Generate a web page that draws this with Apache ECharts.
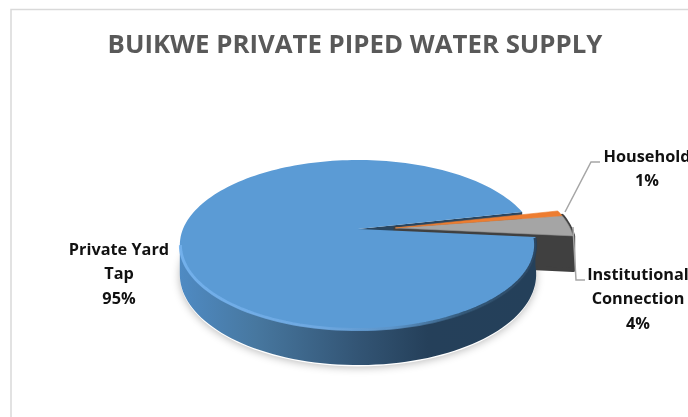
<!DOCTYPE html>
<html><head><meta charset="utf-8">
<style>html,body{margin:0;padding:0;background:#fff;overflow:hidden}#c{width:688px;height:417px}</style>
<script src="https://cdn.jsdelivr.net/npm/echarts@6/dist/echarts.min.js"></script>
</head><body><div id="c"></div>
<script>
const titleText = 'BUIKWE PRIVATE PIPED WATER SUPPLY';
const categories = ['Private Yard\nTap', 'Household', 'Institutional\nConnection'];
const values = [95, 1, 4];
const topColors = ['#5b9bd5', '#ed7d31', '#a5a5a5'];
const explode = [0, 0.215, 0.215];

const FONT = '"Open Sans", sans-serif';
const view = {cx: 358, cy: 229, A: 175, a: 82, p: 0.188, H: 28.5, start: 5.5, explodeAngle: -3.5};
const labelPos = [[119, 238], [647, 145], [638, 263]];
const leaders = [null, [[565, 212], [591, 162], [600, 162]], [[573, 227], [576, 280], [585, 280]]];

const total = values.reduce((s, v) => s + v, 0);
function proj(u, v, h) {
  const w = 1 - view.p * v;
  return [view.cx + view.A * u / w, view.cy + view.a * v / w + (h || 0) * view.H / w];
}
function slice(i) {
  let acc = 0;
  for (let k = 0; k < i; k++) acc += values[k];
  const a0 = view.start + acc / total * 360, a1 = a0 + values[i] / total * 360;
  const dir = view.explodeAngle * Math.PI / 180;
  const ex = explode[i];
  return {a0, a1, ox: ex * Math.cos(dir), oy: ex * Math.sin(dir)};
}
function arc(s, from, to, h, n, r) {
  const pts = [], R = r || 1;
  for (let k = 0; k <= n; k++) {
    const t = (from + (to - from) * k / n) * Math.PI / 180;
    pts.push(proj(s.ox + R * Math.cos(t), s.oy + R * Math.sin(t), h));
  }
  return pts;
}
const LG = (a, b, c, d, st) => new echarts.graphic.LinearGradient(a, b, c, d, st, true);

function renderItem(params) {
  const i = params.dataIndex;
  const s = slice(i);
  const apex = h => proj(s.ox, s.oy, h);
  const kids = [];
  const poly = (points, style, z2) => ({type: 'polygon', shape: {points}, style, z2, silent: true});
  const line = (points, style, z2) => ({type: 'polyline', shape: {points}, style: Object.assign({fill: null}, style), z2, silent: true});
  if (i === 0) {
    const sideGrad = LG(178, 0, 535, 0, [
      {offset: 0, color: '#4f8bc4'}, {offset: 0.22, color: '#47779f'},
      {offset: 0.5, color: '#335575'}, {offset: 0.7, color: '#25405a'}, {offset: 1, color: '#24405a'}]);
    // ground shadow
    kids.push(poly(arc(s, 0, 360, 1.04, 120), {fill: '#fff', shadowBlur: 9, shadowColor: 'rgba(0,0,0,0.28)', shadowOffsetY: 1}, 1));
    // far cut wall seen through the wedge
    const farEnd = arc(s, s.a1, s.a1, 0, 1)[0], farEndH = arc(s, s.a1, s.a1, 1, 1)[0];
    kids.push(poly([apex(0), farEnd, farEndH, apex(1)], {fill: '#2a4660'}, 2));
    // side wall
    const r0 = arc(s, s.a0, 169, 0, 80), r1 = arc(s, s.a0, 169, 1, 80);
    kids.push(poly(r0.concat(r1.reverse()), {fill: sideGrad}, 20));
    // top face
    const rim = arc(s, s.a0, s.a1, 0, 180);
    kids.push(poly([apex(0)].concat(rim), {fill: topColors[0]}, 21));
    // bevel along the near rim
    const bevel = arc(s, s.a0 + 0.6, 169, 0, 80, 0.997);
    kids.push(line(bevel, {lineWidth: 3, stroke: LG(178, 0, 535, 0, [
      {offset: 0, color: '#74b2ee'}, {offset: 0.4, color: '#6fa9e2'}, {offset: 0.6, color: '#5b93c8'},
      {offset: 0.8, color: '#2f5270'}, {offset: 1, color: '#263f58'}]), opacity: 0.9}, 22));
  } else {
    const sideColor = '#404040';
    if (i === 2) {
      const r0 = arc(s, s.a0, s.a1, 0, 20), r1 = arc(s, s.a0, s.a1, 1.18, 20);
      const near1 = arc(s, s.a1, s.a1, 1.18, 1)[0];
      const wallStyle = {fill: sideColor, stroke: sideColor, lineWidth: 4, lineJoin: 'round'};
      kids.push(poly(r0.concat(r1.reverse()), wallStyle, 5));
      kids.push(poly([apex(0), r0[r0.length - 1], near1, apex(1.18)], wallStyle, 5));
    }
    const rim = arc(s, s.a0, s.a1, 0, 10);
    kids.push(poly([apex(0)].concat(rim), {fill: topColors[i], stroke: i === 2 ? '#8f8f8f' : topColors[i], lineWidth: 0.6, lineJoin: 'round'}, i === 2 ? 8 : 9));
  }
  // leader line
  if (leaders[i]) kids.push(line(leaders[i], {stroke: '#a6a6a6', lineWidth: 1.5}, 30));
  // label
  kids.push({type: 'text', z2: 40, silent: true, style: {
    x: labelPos[i][0], y: labelPos[i][1], text: categories[i] + '\n' + values[i] + '%',
    align: 'center', verticalAlign: 'top', font: 'bold 16.3px ' + FONT, lineHeight: 24.4, fill: '#111111'}});
  return {type: 'group', children: kids};
}

const chart = echarts.init(document.getElementById('c'), null, {renderer: 'canvas', width: 688, height: 417});
chart.setOption({
  animation: false,
  backgroundColor: '#ffffff',
  title: {text: titleText, left: 350, top: 28, textAlign: 'center',
    textStyle: {fontFamily: FONT, fontWeight: 'bold', fontSize: 25.8, color: '#595959'}},
  graphic: [{type: 'rect', z: -1, silent: true, shape: {x: 11, y: 9.5, width: 800, height: 600},
    style: {fill: 'none', stroke: '#d9d9d9', lineWidth: 1.5}}],
  series: [{
    type: 'custom', coordinateSystem: 'none', renderItem, silent: true,
    data: categories.map((c, i) => ({name: c, value: values[i]}))
  }]
});
</script></body></html>
